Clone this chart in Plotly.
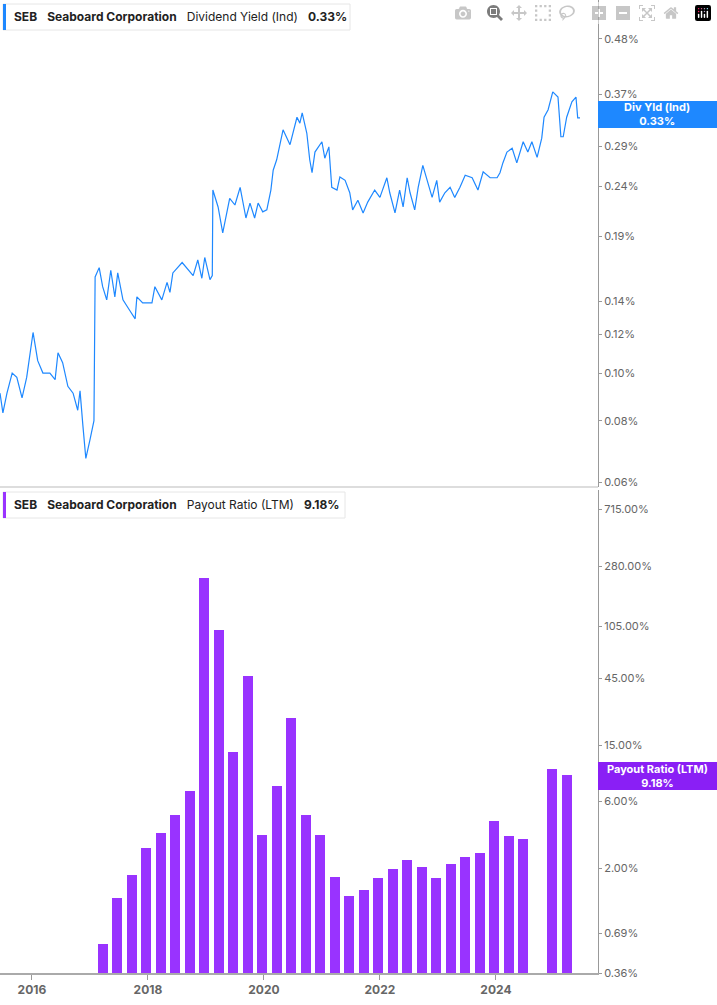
import plotly.graph_objects as go
from plotly.subplots import make_subplots

# Dividend yield (%) — decimal year, value
yield_t = [2015.45,2015.50,2015.57,2015.66,2015.74,2015.83,2015.91,2016.02,2016.10,2016.19,2016.31,2016.40,2016.45,2016.53,2016.62,2016.71,2016.79,2016.83,2016.88,2016.93,2017.00,2017.07,2017.09,2017.16,2017.22,2017.29,2017.36,2017.43,2017.48,2017.57,2017.69,2017.78,2017.81,2017.91,2018.07,2018.12,2018.24,2018.33,2018.38,2018.43,2018.59,2018.67,2018.78,2018.86,2018.93,2018.98,2019.07,2019.11,2019.12,2019.21,2019.29,2019.41,2019.50,2019.59,2019.69,2019.76,2019.84,2019.90,2019.98,2020.05,2020.12,2020.16,2020.22,2020.33,2020.45,2020.57,2020.62,2020.66,2020.74,2020.79,2020.83,2020.88,2021.00,2021.05,2021.12,2021.17,2021.26,2021.31,2021.40,2021.48,2021.53,2021.62,2021.71,2021.79,2021.91,2022.00,2022.12,2022.17,2022.26,2022.34,2022.40,2022.47,2022.52,2022.60,2022.66,2022.74,2022.81,2022.90,2022.98,2023.03,2023.12,2023.21,2023.29,2023.38,2023.47,2023.59,2023.69,2023.78,2023.90,2024.02,2024.07,2024.12,2024.19,2024.28,2024.36,2024.47,2024.55,2024.62,2024.71,2024.79,2024.83,2024.90,2024.98,2025.07,2025.12,2025.16,2025.22,2025.31,2025.38,2025.41,2025.45]
yield_v = [0.091,0.083,0.091,0.100,0.098,0.089,0.098,0.121,0.106,0.100,0.100,0.097,0.110,0.105,0.094,0.091,0.084,0.092,0.078,0.067,0.073,0.080,0.157,0.164,0.150,0.141,0.162,0.143,0.160,0.141,0.134,0.129,0.143,0.139,0.139,0.150,0.141,0.153,0.146,0.160,0.168,0.164,0.158,0.170,0.156,0.172,0.155,0.158,0.236,0.218,0.193,0.227,0.220,0.239,0.207,0.222,0.207,0.222,0.213,0.215,0.236,0.259,0.272,0.313,0.292,0.332,0.323,0.339,0.308,0.272,0.256,0.282,0.296,0.274,0.289,0.239,0.236,0.251,0.247,0.233,0.215,0.225,0.212,0.223,0.236,0.228,0.250,0.233,0.212,0.236,0.218,0.250,0.233,0.215,0.239,0.265,0.247,0.228,0.247,0.223,0.233,0.239,0.228,0.239,0.253,0.250,0.236,0.257,0.250,0.250,0.256,0.268,0.282,0.287,0.268,0.296,0.282,0.296,0.275,0.301,0.332,0.344,0.374,0.365,0.303,0.303,0.332,0.357,0.365,0.331,0.331]

# Payout ratio (LTM, %) — quarterly
payout_t = [2017.22,2017.47,2017.72,2017.97,2018.22,2018.47,2018.72,2018.97,2019.22,2019.47,2019.72,2019.97,2020.22,2020.47,2020.72,2020.97,2021.22,2021.47,2021.72,2021.97,2022.22,2022.47,2022.72,2022.97,2023.22,2023.47,2023.72,2023.97,2024.22,2024.47,2024.97,2025.22]
payout_v = [0.58,1.23,1.79,2.78,3.56,4.78,7.08,231,98.6,13.4,46.5,3.44,7.68,23.4,4.78,3.44,1.73,1.27,1.40,1.70,1.97,2.29,2.04,1.70,2.14,2.40,2.57,4.33,3.39,3.23,10.15,9.18]

yield_ticks = [0.06,0.08,0.10,0.12,0.14,0.19,0.24,0.29,0.37,0.48]
payout_ticks = [0.36,0.69,2.0,6.0,15.0,45.0,105.0,280.0,715.0]
year_ticks = [2016,2018,2020,2022,2024]

BLUE = "#1e88ff"
PURPLE = "#9933ff"
GRAY = "#666666"
H = 973.0
def py(px):
    return 1 - px / H

fig = make_subplots(rows=2, cols=1, shared_xaxes=True, vertical_spacing=0)
fig.add_trace(go.Scatter(x=yield_t, y=yield_v, mode="lines", line=dict(color=BLUE, width=1.2), showlegend=False), 1, 1)
fig.add_trace(go.Bar(x=payout_t, y=payout_v, width=0.17, marker=dict(color=PURPLE, line=dict(width=0)), showlegend=False), 2, 1)

fig.update_layout(
    width=717, height=1005, margin=dict(l=0, r=119, t=0, b=32),
    plot_bgcolor="white", paper_bgcolor="white", bargap=0,
    font=dict(family="Inter", color=GRAY, size=11),
)
fig.update_yaxes(type="log", side="right", tickvals=yield_ticks, ticktext=[f"{v:.2f}%" for v in yield_ticks],
                 range=[-1.232, -0.240], domain=[py(487), 1], showgrid=False, ticks="outside", ticklen=3,
                 tickcolor="#999", showline=True, linecolor="#999", linewidth=1, zeroline=False, row=1, col=1)
fig.update_yaxes(type="log", side="right", tickvals=payout_ticks, ticktext=[f"{v:.2f}%" for v in payout_ticks],
                 range=[-0.4437, 2.990], domain=[0, py(490)], showgrid=False, ticks="outside", ticklen=3,
                 tickcolor="#999", showline=True, linecolor="#999", linewidth=1, zeroline=False, row=2, col=1)
fig.update_xaxes(range=[2015.45, 2025.76], showgrid=False, zeroline=False, row=1, col=1, showticklabels=False)
fig.update_xaxes(range=[2015.45, 2025.76], showgrid=False, zeroline=False, tickvals=year_ticks,
                 ticktext=[f"<b>{y}</b>" for y in year_ticks], ticks="outside", ticklen=5, tickcolor="#999",
                 showline=True, linecolor="#aaa", linewidth=2, tickfont=dict(size=12, color=GRAY), row=2, col=1)

shapes = [
    dict(type="line", xref="paper", yref="paper", x0=0, x1=1, y0=py(487), y1=py(487), line=dict(color="#ddd", width=2)),
]
def legend_box(y0, y1, x1, color):
    shapes.append(dict(type="rect", xref="paper", yref="paper", x0=3/598, x1=x1/598, y0=py(y1), y1=py(y0),
                       line=dict(color="#e6e6e6", width=1), fillcolor="white", layer="above"))
    shapes.append(dict(type="rect", xref="paper", yref="paper", x0=3/598, x1=6/598, y0=py(y1), y1=py(y0),
                       line=dict(width=0), fillcolor=color, layer="above"))
legend_box(4, 30, 350, BLUE)
legend_box(492, 518, 345, PURPLE)
shapes.append(dict(type="rect", xref="paper", yref="paper", x0=1, x1=717/598, y0=py(128), y1=py(101),
                   line=dict(width=0), fillcolor=BLUE, layer="above"))
shapes.append(dict(type="rect", xref="paper", yref="paper", x0=1, x1=717/598, y0=py(790), y1=py(762),
                   line=dict(width=0), fillcolor="#8a1ff5", layer="above"))
fig.update_layout(shapes=shapes)

ann = [
    dict(x=12/598, y=py(17), text="<b>SEB</b>   <b>Seaboard Corporation</b>   Dividend Yield (Ind)   <b>0.33%</b>"),
    dict(x=12/598, y=py(505), text="<b>SEB</b>   <b>Seaboard Corporation</b>   Payout Ratio (LTM)   <b>9.18%</b>"),
]
annotations = [dict(xref="paper", yref="paper", xanchor="left", yanchor="middle", showarrow=False,
                    font=dict(family="Inter", size=12, color="#222"), **a) for a in ann]
annotations.append(dict(xref="paper", yref="paper", x=657/598, y=py(114.5), xanchor="center", yanchor="middle",
                        showarrow=False, text="<b>Div Yld (Ind)<br>0.33%</b>",
                        font=dict(family="Inter", size=11, color="white")))
annotations.append(dict(xref="paper", yref="paper", x=657/598, y=py(776), xanchor="center", yanchor="middle",
                        showarrow=False, text="<b>Payout Ratio (LTM)<br>9.18%</b>",
                        font=dict(family="Inter", size=11, color="white")))
fig.update_layout(annotations=annotations)

fig.write_html("out.html", post_script="document.body.style.margin='0';document.body.style.overflow='hidden';")
